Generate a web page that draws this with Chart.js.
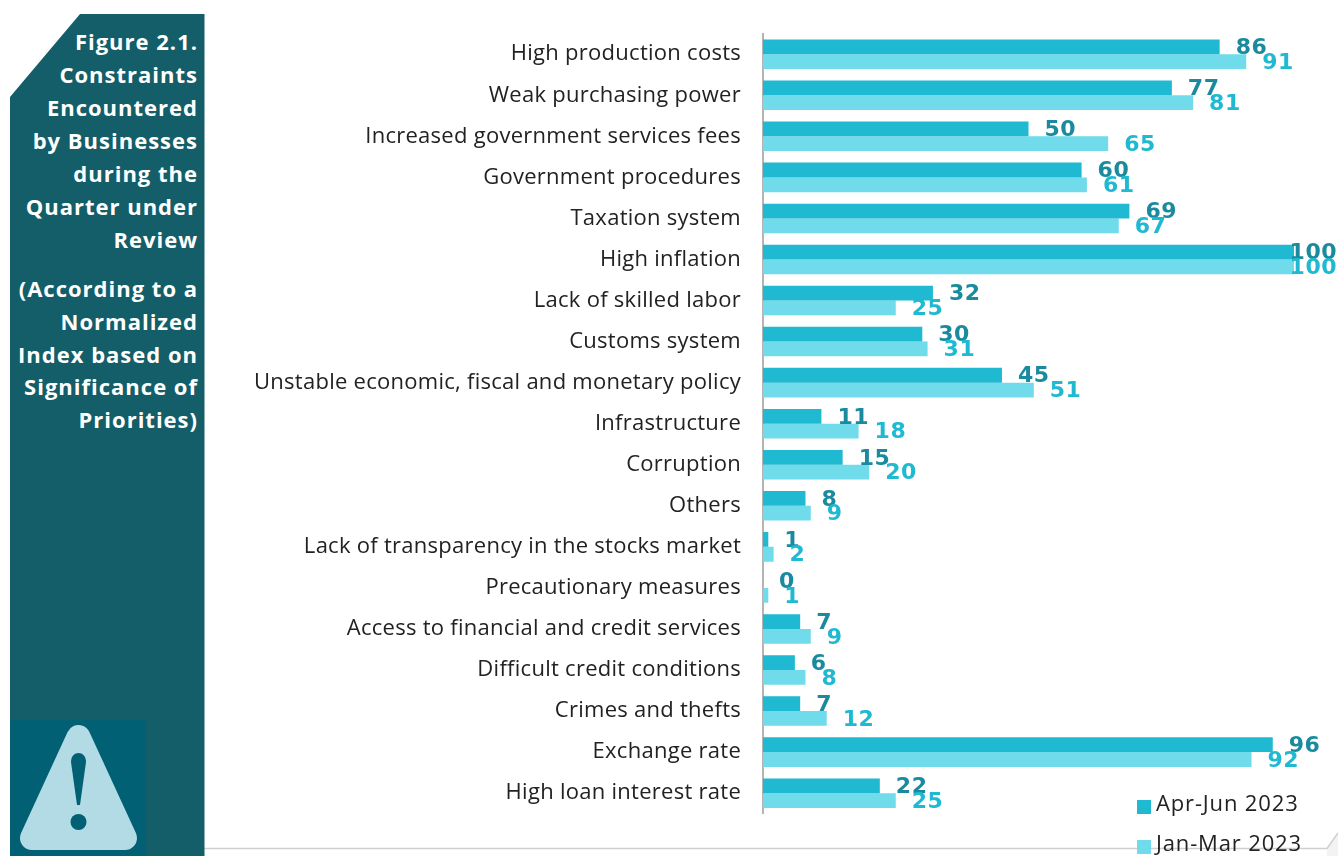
<!DOCTYPE html>
<html>
<head>
<meta charset="utf-8">
<title>Constraints Encountered by Businesses</title>
<script src="https://cdn.jsdelivr.net/npm/chart.js@4"></script>
<style>
    html, body { margin: 0; padding: 0; background: #fff; }
    body { position: relative; width: 1338px; height: 856px; overflow: hidden; }
    #frame { position: absolute; left: 0; top: 0; }
    #side-panel {
        position: absolute; left: 10px; top: 14px; width: 194.5px; height: 842px;
        background: #135e68;
        clip-path: polygon(70px 0, 100% 0, 100% 100%, 0 100%, 0 83px);
    }
    #icon { position: absolute; left: 10px; top: 720px; }
    .panel-line {
        position: absolute; right: 1140px; white-space: nowrap;
        font: 700 22px "Open Sans", sans-serif; letter-spacing: 1px; color: #fff; line-height: 26px;
    }
    #chart-wrap { position: absolute; left: 0; top: 0; width: 1338px; height: 856px; }
</style>
</head>
<body>
<svg id="frame" width="1338" height="856">
    <polygon points="1327,848.5 1338,833 1338,856 1327,856" fill="#f3f3f3"/>
    <polyline points="204,848.5 1327,848.5 1338,833" fill="none" stroke="#cfcfcf" stroke-width="1.5"/>
</svg>
<div id="side-panel"></div>
<svg id="icon" width="136" height="136">
    <rect width="136" height="136" fill="#016073"/>
    <polygon points="68.5,17 22,118 115,118" fill="#b2dbe6" stroke="#b2dbe6" stroke-width="24" stroke-linejoin="round"/>
    <path d="M61,42 C61,30 76,30 76,42 L70,85 L67,85 Z" fill="#016073"/>
    <circle cx="68.5" cy="102" r="8" fill="#016073"/>
</svg>
<div id="panel-text"></div>
<div id="chart-wrap"><canvas id="constraintsChart" width="1338" height="856"></canvas></div>

<script>
// Chart data
const categories = [
    'High production costs', 'Weak purchasing power', 'Increased government services fees',
    'Government procedures', 'Taxation system', 'High inflation', 'Lack of skilled labor',
    'Customs system', 'Unstable economic, fiscal and monetary policy', 'Infrastructure',
    'Corruption', 'Others', 'Lack of transparency in the stocks market', 'Precautionary measures',
    'Access to financial and credit services', 'Difficult credit conditions', 'Crimes and thefts',
    'Exchange rate', 'High loan interest rate'
];
const aprJun2023 = [86, 77, 50, 60, 69, 100, 32, 30, 45, 11, 15, 8, 1, 0, 7, 6, 7, 96, 22];
const janMar2023 = [91, 81, 65, 61, 67, 100, 25, 31, 51, 18, 20, 9, 2, 1, 9, 8, 12, 92, 25];
const seriesNames = ['Apr-Jun 2023', 'Jan-Mar 2023'];

const panelLines = [
    ['Figure 2.1.', 42], ['Constraints', 75], ['Encountered', 108], ['by Businesses', 141],
    ['during the', 174], ['Quarter under', 207], ['Review', 240],
    ['(According to a', 289], ['Normalized', 322], ['Index based on', 355],
    ['Significance of', 387], ['Priorities)', 420]
];

const panelText = document.getElementById('panel-text');
panelLines.forEach(([text, y]) => {
    const line = document.createElement('div');
    line.className = 'panel-line';
    line.style.top = (y - 14) + 'px';
    line.textContent = text;
    panelText.appendChild(line);
});

// Slightly looser tracking for the category labels
const labelTracking = {
    id: 'labelTracking',
    beforeDraw(chart) {
        chart.ctx.letterSpacing = '0.27px';
    }
};

// Value labels at the bar ends, pushed back inside the page if they would run off it
const valueLabels = {
    id: 'valueLabels',
    afterDatasetsDraw(chart) {
        const ctx = chart.ctx;
        const colors = ['#1a8a9e', '#1fb9d2'];
        ctx.save();
        ctx.font = 'bold 22px "DejaVu Sans", sans-serif';
        ctx.letterSpacing = '0.5px';
        ctx.textBaseline = 'middle';
        ctx.textAlign = 'left';
        chart.data.datasets.forEach((ds, i) => {
            ctx.fillStyle = colors[i];
            chart.getDatasetMeta(i).data.forEach((bar, j) => {
                const text = String(ds.data[j]);
                const w = ctx.measureText(text).width;
                const x = Math.min(bar.x + 16, chart.width - w - 1);
                ctx.fillText(text, x, bar.y + 1.5);
            });
        });
        ctx.restore();
    }
};

// Legend sits low on the right, over the last bars
const cornerLegend = {
    id: 'cornerLegend',
    afterDraw(chart) {
        const ctx = chart.ctx;
        const rows = [805, 845];
        ctx.save();
        ctx.font = '22px "Open Sans", sans-serif';
        ctx.letterSpacing = '0.85px';
        ctx.textBaseline = 'middle';
        ctx.textAlign = 'left';
        chart.data.datasets.forEach((ds, i) => {
            ctx.fillStyle = ds.backgroundColor;
            ctx.fillRect(1137, rows[i] - 5, 14, 14);
            ctx.fillStyle = '#222';
            ctx.fillText(ds.label, 1156, rows[i]);
        });
        ctx.restore();
    }
};

new Chart(document.getElementById('constraintsChart'), {
    type: 'bar',
    data: {
        labels: categories,
        datasets: [
            { label: seriesNames[0], data: aprJun2023, backgroundColor: '#1fb9d2' },
            { label: seriesNames[1], data: janMar2023, backgroundColor: '#70dbea' }
        ]
    },
    options: {
        indexAxis: 'y',
        responsive: false,
        animation: false,
        categoryPercentage: 0.72,
        barPercentage: 1,
        layout: { padding: { top: 33.7, right: 44, bottom: 42.3, left: 0 } },
        plugins: {
            legend: { display: false },
            tooltip: { enabled: false }
        },
        scales: {
            x: { display: false, min: 0, max: 100 },
            y: {
                afterFit(scale) {
                    scale.width = 763;
                    // tick padding would otherwise hold the plot top down
                    scale.paddingTop = 0;
                    scale.paddingBottom = 0;
                },
                grid: { display: false, drawTicks: false },
                border: { display: true, color: '#b4b4b4', width: 2 },
                ticks: {
                    autoSkip: false,
                    padding: 22,
                    color: '#222',
                    font: { family: '"Open Sans", sans-serif', size: 22 }
                }
            }
        }
    },
    plugins: [labelTracking, valueLabels, cornerLegend]
});
</script>
</body>
</html>
